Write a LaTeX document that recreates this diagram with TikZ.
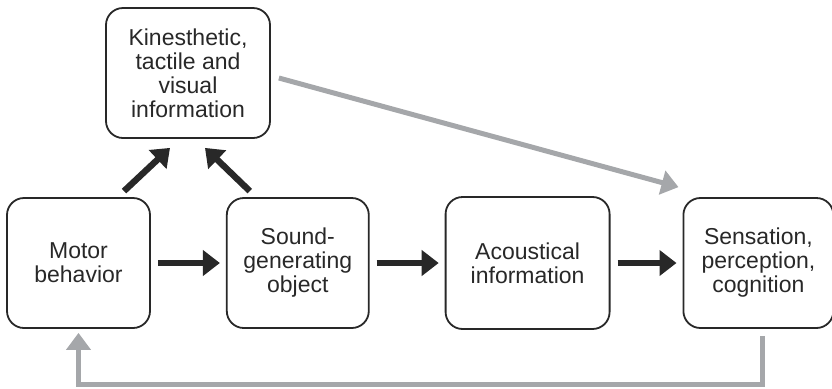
\documentclass[tikz,border=0pt]{standalone}
\usepackage{fontspec}
\setmainfont{Liberation Sans}
\usetikzlibrary{arrows.meta, positioning}
\definecolor{linegray}{RGB}{165, 167, 170}
\definecolor{inkdark}{RGB}{40, 40, 40}

\begin{document}
\begin{tikzpicture}[
  box/.style={draw=inkdark, text=inkdark, line width=0.9pt, rounded corners=8.5pt,
    minimum width=71pt, minimum height=65pt, align=center,
    font=\fontsize{11.5}{12}\selectfont},
  flow/.style={inkdark, line width=3.2pt, -{Triangle[length=8.5pt,width=12.5pt]}},
  loop/.style={linegray, line width=2.5pt, -{Triangle[length=8.5pt,width=12pt]}},
  node distance=37.5pt
]
  \useasboundingbox (0,0) rectangle (416pt,-194pt);

  % main chain
  \node[box, minimum width=71.5pt] (motor) at (39.25pt,-131.5pt) {Motor\\behavior};
  \node[box, right=of motor] (sound) {Sound-\\generating\\object};
  \node[box, right=of sound, minimum width=82pt, minimum height=66pt] (acoustic) {Acoustical\\information};
  \node[box, right=36pt of acoustic, minimum width=75pt] (sense) {Sensation,\\perception,\\cognition};

  % side channel
  \node[box, minimum width=82pt] (kinesthetic) at (94pt,-36.5pt) {Kinesthetic,\\tactile and\\visual\\information};

  \draw[flow, shorten <=3.5pt, shorten >=3pt] (motor) -- (sound);
  \draw[flow, shorten <=3.5pt, shorten >=3pt] (sound) -- (acoustic);
  \draw[flow, shorten <=3.5pt, shorten >=3pt] (acoustic) -- (sense);

  \draw[flow] ([xshift=22.75pt,yshift=3pt]motor.north) -- ([xshift=-9pt,yshift=-4.5pt]kinesthetic.south);
  \draw[flow] ([xshift=-24pt,yshift=3pt]sound.north) -- ([xshift=8.5pt,yshift=-4.5pt]kinesthetic.south);

  \draw[loop] ([xshift=4pt,yshift=-2.5pt]kinesthetic.east) -- ([xshift=-2pt,yshift=5pt]sense.north west);
  \draw[loop] ([xshift=2pt,yshift=-3.5pt]sense.south) -- ++(0,-24.5pt) -| ([yshift=-2pt]motor.south);
\end{tikzpicture}
\end{document}
